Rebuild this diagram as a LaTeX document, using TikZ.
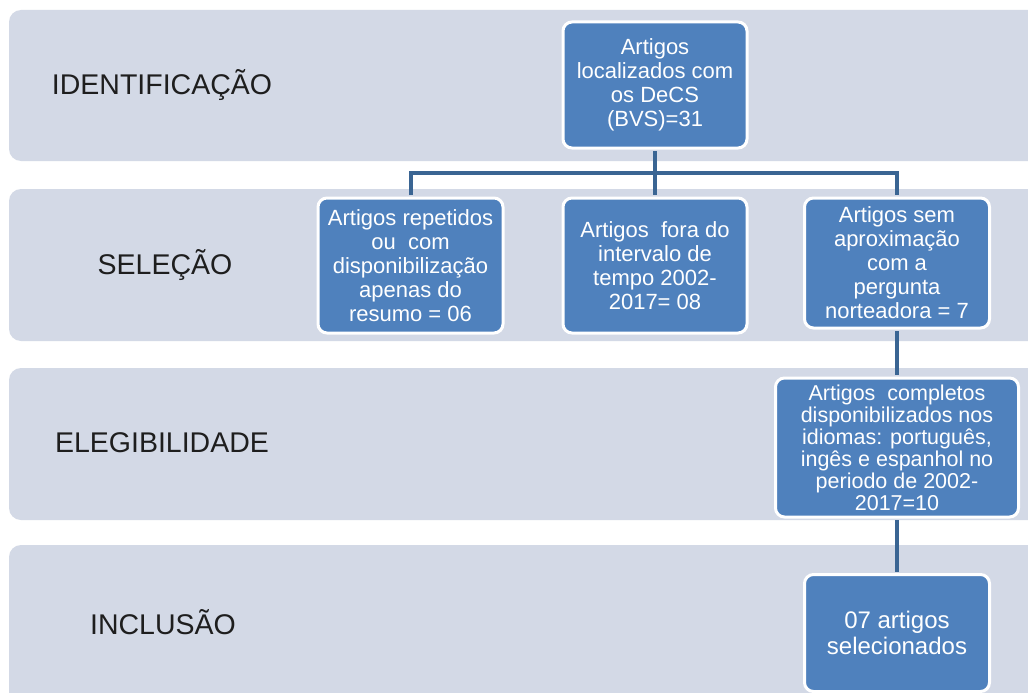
\documentclass[tikz,border=0pt]{standalone}
\usepackage{fontspec}
\setmainfont{Liberation Sans}
\definecolor{bandfill}{HTML}{D3D9E6}
\definecolor{boxfill}{HTML}{4F81BD}
\definecolor{linecol}{HTML}{3A6593}
\definecolor{labcol}{HTML}{1E1E1E}
\tikzset{
  band/.style={fill=bandfill, draw=none, rounded corners=12pt},
  box/.style={draw=white, line width=3pt, fill=boxfill, rounded corners=9pt,
    text=white, align=center, inner sep=0pt,
    font=\fontsize{22}{24}\selectfont},
  lab/.style={text=labcol, font=\fontsize{28.5}{30}\selectfont},
  conn/.style={draw=linecol, line width=4pt, shorten <=1.5pt, shorten >=1.5pt}
}
\begin{document}
\begin{tikzpicture}[x=1pt,y=-1pt]
\useasboundingbox (0,0) rectangle (1028,693);
\clip (0,0) rectangle (1028,693);
\fill[white] (0,0) rectangle (1028,693);
% bands
\path[band] (9,10) rectangle (1045,161);
\path[band] (9,189) rectangle (1045,341);
\path[band] (9,368) rectangle (1045,520);
\path[band] (9,545) rectangle (1045,710);
% labels
\node[lab] (l1) at (162,85) {IDENTIFICAÇÃO};
\node[lab] (l2) at (165,265) {SELEÇÃO};
\node[lab] (l3) at (162,443) {ELEGIBILIDADE};
\node[lab] (l4) at (163,622) {INCLUSÃO};
% boxes
\node[box, minimum width=184pt, minimum height=126pt] (top) at (655,85)
  {Artigos\\localizados com\\os DeCS\\(BVS)=31};
\node[box, minimum width=185pt, minimum height=135pt] (A) at (410.5,265.5)
  {Artigos repetidos\\ou\ \ com\\disponibilização\\apenas do\\resumo = 06};
\node[box, minimum width=184pt, minimum height=135pt] (B) at (655,265.5)
  {Artigos\ \ fora do\\intervalo de\\tempo 2002-\\2017= 08};
\node[box, minimum width=185pt, minimum height=130pt] (C) at (897,263)
  {Artigos sem\\aproximação\\com a\\pergunta\\norteadora = 7};
\node[box, minimum width=243pt, minimum height=139pt, font=\fontsize{21.5}{22}\selectfont] (D) at (897,447.5)
  {Artigos\ \ completos\\disponibilizados nos\\idiomas: português,\\ingês e espanhol no\\periodo de 2002-\\2017=10};
\node[box, minimum width=185pt, minimum height=117pt, font=\fontsize{24}{26}\selectfont] (E) at (897,633)
  {07 artigos\\selecionados};
% connectors
\coordinate (bus) at (655,173);
\draw[conn] (top.south) -- (B.north);
\draw[conn] (A.north) |- (bus) -| (C.north);
\draw[conn] (C.south) -- (D.north);
\draw[conn] (D.south) -- (E.north);
\end{tikzpicture}
\end{document}
